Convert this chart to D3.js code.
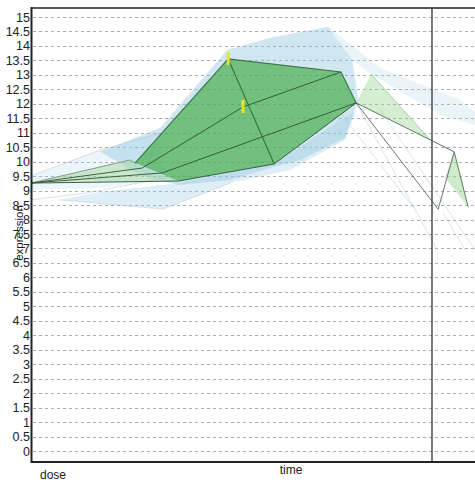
<!DOCTYPE html>
<html><head><meta charset="utf-8">
<script src="https://cdn.jsdelivr.net/npm/d3@7"></script>
<style>html,body{margin:0;padding:0;background:#fff;} svg{display:block;}</style>
</head><body><svg id="chart" width="475" height="486"></svg>
<script>
// y ticks: 0 … 15 in steps of 0.5
const yTicks = d3.range(0, 15.01, 0.5);

// ribbon outlines, as [time, expression] pairs
const blueLeft  = [[0,9.51],[1.73,10.40],[3.23,10.99],[3.35,9.37],[1.73,9.09],[0,9.02]];
const blueLow   = [[0.73,8.68],[3.3,8.36],[4.98,9.26],[6.48,9.71],[7.85,10.75],[8.13,11.79],[6.08,9.92],[3.68,9.26],[1.73,8.95]];
const blueMain  = [[1.73,10.34],[3.23,11.17],[4.9,13.86],[5.98,14.28],[7.43,14.66],[8.03,13.52],[8.18,12.13],[7.85,10.82],[6.73,10.06],[5.98,9.78],[4.98,9.37],[3.68,9.19],[2.73,9.54]];
const blueRight = [[7.43,14.66],[8.73,13.24],[10.73,12.13],[11.1,11.72],[11.1,11.27],[10.23,11.61],[8.5,13.03],[8.03,13.52]];
const greenLeft = [[0,9.26],[2.48,10.06],[2.78,9.78],[3.68,9.33]];
const kite      = [[2.6,9.95],[4.93,13.55],[7.75,13.10],[8.13,12.03],[6.08,9.92],[3.68,9.33]];
const greenRightPale = [[8.13,12.03],[8.5,13.03],[9.98,10.75],[10.58,10.34]];
const greenTip  = [[10.58,10.34],[10.93,8.43],[10.35,9.44]];

// profile lines
const topLine   = [[0,9.26],[2.48,10.06],[2.6,9.95]];
const line1     = [[0,9.26],[2.78,9.78],[5.3,11.89],[7.75,13.10]];
const line2     = [[0,9.26],[3.28,9.61],[8.13,12.03]];
const line3     = [[0,9.26],[3.68,9.33],[6.08,9.92],[8.13,12.03]];
const kiteEdge  = [[2.6,9.95],[4.93,13.55],[7.75,13.10],[8.13,12.03]];
const spine     = [[4.93,13.55],[6.08,9.92]];
const rightA    = [[8.13,12.03],[10.58,10.34],[10.93,8.43]];
const rightB    = [[8.13,12.03],[10.18,8.36],[10.58,10.34]];
const paleEdge  = [[8.5,13.03],[9.98,10.75]];

// faint trailing lines
const faint = [
  [[8.13,12.03],[10.13,7.02]],
  [[8.73,11.79],[11.1,6.95]],
  [[10.3,8.23],[10.85,6.95]],
  [[7.55,12.03],[9.55,8.43]],
  [[0,8.68],[1.4,8.92],[3.35,9.44]],
  [[0.73,8.68],[3.3,8.36],[4.98,9.26]],
  [[0,9.51],[1.73,10.40],[3.23,10.99]]
];

// highlighted points
const markers = [[4.93,13.55],[5.3,11.89]];

const xTicksLabel = "time", doseLabel = "dose", yLabel = "expression";

const svg = d3.select("#chart");
const x = d3.scaleLinear().domain([0, 11.1]).range([31, 475]);
const y = d3.scaleLinear().domain([0, 15]).range([451, 17]);
const line = d3.line().x(d => x(d[0])).y(d => y(d[1]));
const poly = pts => line(pts) + "Z";

// dashed grid
svg.append("g").selectAll("line").data(yTicks).join("line")
  .attr("x1", 33).attr("x2", 475)
  .attr("y1", d => Math.round(y(d)) + 0.5).attr("y2", d => Math.round(y(d)) + 0.5)
  .attr("stroke", "#ababab").attr("stroke-width", 1).attr("stroke-dasharray", "3,3");

const g = svg.append("g");
const fill = (pts, c, o) => g.append("path").attr("d", poly(pts)).attr("fill", c).attr("fill-opacity", o).attr("stroke", "none");
const stroke = (pts, c, w, o) => g.append("path").attr("d", line(pts)).attr("fill", "none").attr("stroke", c).attr("stroke-width", w).attr("stroke-opacity", o);

fill(blueLeft, "#a9d2e8", 0.22);
fill(blueLow, "#9ccbe3", 0.32);
fill(blueMain, "#8ec3de", 0.42);
fill(blueRight, "#a9d2e8", 0.25);
fill(greenLeft, "#a4d89e", 0.5);
fill(kite, "#3cab3c", 0.64);
fill(greenRightPale, "#a2d99b", 0.45);
fill(greenTip, "#a6dca0", 0.55);

faint.forEach(f => stroke(f, "#a6bcc8", 0.8, 0.55));
stroke(topLine, "#8a9a8a", 1, 1);
stroke(paleEdge, "#9fc79a", 1, 0.8);
[line1, line2, line3].forEach(l => stroke(l, "#2f5236", 1, 0.9));
stroke(kiteEdge, "#2f6a38", 1.1, 0.9);
stroke(spine, "#2f6a38", 1.1, 0.9);
stroke(rightA, "#4f6f52", 1, 0.9);
stroke(rightB, "#5a6a5c", 1, 0.9);

svg.append("g").selectAll("rect").data(markers).join("rect")
  .attr("x", d => x(d[0]) - 1.5).attr("y", d => y(d[1]) - 7)
  .attr("width", 3).attr("height", 13)
  .attr("fill", "#e6e61e");

// frame
svg.append("line").attr("x1", 31).attr("x2", 475).attr("y1", 8).attr("y2", 8).attr("stroke", "#222").attr("stroke-width", 1.5);
svg.append("line").attr("x1", 31).attr("x2", 475).attr("y1", 462).attr("y2", 462).attr("stroke", "#222").attr("stroke-width", 2);
svg.append("line").attr("x1", 432).attr("x2", 432).attr("y1", 8).attr("y2", 462).attr("stroke", "#333").attr("stroke-width", 1.3);

// y axis
const ax = svg.append("g").attr("transform", "translate(31.5,0)")
  .call(d3.axisLeft(y).tickValues(yTicks).tickFormat(d => d).tickSize(0).tickPadding(1.5));
ax.select(".domain").remove();
ax.selectAll("text").attr("font-family", "Liberation Sans, Arial, sans-serif").attr("font-size", 12.5).attr("fill", "#222");
svg.append("line").attr("x1", 31.5).attr("x2", 31.5).attr("y1", 7).attr("y2", 463).attr("stroke", "#222").attr("stroke-width", 2);

const txt = (t, px, py, rot) => svg.append("text").text(t)
  .attr("transform", `translate(${px},${py})` + (rot ? ` rotate(${rot})` : ""))
  .attr("text-anchor", "middle").attr("dominant-baseline", "middle")
  .attr("font-family", "Liberation Sans, Arial, sans-serif").attr("font-size", 12).attr("fill", "#222");
txt(yLabel, 20, 233, -90).attr("font-size", 11.5);
txt(doseLabel, 53, 476);
txt(xTicksLabel, 291, 471);
</script></body></html>
